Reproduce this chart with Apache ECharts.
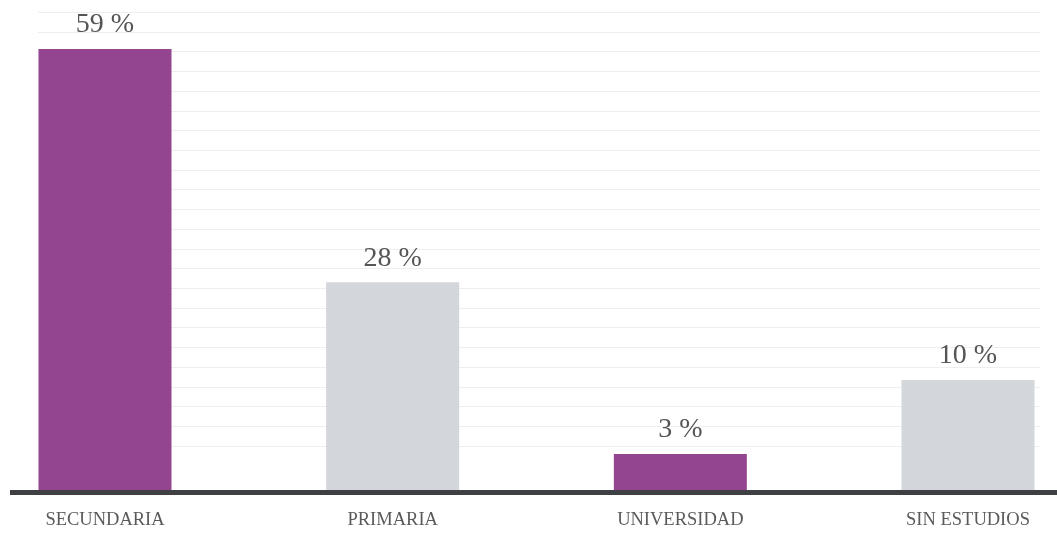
<!DOCTYPE html>
<html>
<head>
<meta charset="utf-8">
<script src="https://cdn.jsdelivr.net/npm/echarts@6/dist/echarts.min.js"></script>
<style>
html,body{margin:0;padding:0;background:#fff;}
#chart{width:1057px;height:535px;}
</style>
</head>
<body>
<div id="chart"></div>
<script>
// Data
const categories = ['SECUNDARIA', 'PRIMARIA', 'UNIVERSIDAD', 'SIN ESTUDIOS'];
const barValues = [59, 27.8, 4.8, 14.7];
const valueLabels = ['59 %', '28 %', '3 %', '10 %'];

const PURPLE = '#93458f';
const GREY = '#d3d6da';
const barColors = [PURPLE, GREY, PURPLE, GREY];
const FONT = 'Liberation Serif';

const chart = echarts.init(document.getElementById('chart'));
chart.setOption({
  animation: false,
  backgroundColor: '#ffffff',
  grid: [
    { left: 105, right: 89, top: 41.5, bottom: 45 },     // bars
    { left: 38, right: 17, top: 12.3, bottom: 89 },      // decorative grid lines
    { left: 10, right: 0, top: 400, bottom: 42.5 }       // baseline
  ],
  xAxis: [
    {
      gridIndex: 0, type: 'category', data: categories, boundaryGap: false,
      axisLine: { show: false }, axisTick: { show: false },
      axisLabel: { margin: 21, color: '#5a5a5a', fontFamily: FONT, fontSize: 18.5, interval: 0 }
    },
    { gridIndex: 1, type: 'value', show: false },
    {
      gridIndex: 2, type: 'value', min: 0, max: 1,
      axisLine: { show: true, lineStyle: { color: '#3f4044', width: 5, cap: 'butt' } },
      axisTick: { show: false }, axisLabel: { show: false }, splitLine: { show: false }
    }
  ],
  yAxis: [
    { gridIndex: 0, type: 'value', min: 0, max: 60, show: false },
    {
      gridIndex: 1, type: 'value', min: 0, max: 22, interval: 1,
      axisLine: { show: false }, axisTick: { show: false }, axisLabel: { show: false },
      splitLine: { show: true, lineStyle: { color: '#eeeeee', width: 1 } }
    },
    { gridIndex: 2, type: 'value', show: false }
  ],
  series: [{
    type: 'bar',
    xAxisIndex: 0, yAxisIndex: 0,
    data: barValues.map((v, i) => ({ value: v, itemStyle: { color: barColors[i] } })),
    barWidth: 133,
    clip: false,
    z: 3,
    label: {
      show: true, position: 'top', distance: 10,
      color: '#555', fontFamily: FONT, fontSize: 28,
      formatter: p => valueLabels[p.dataIndex]
    }
  }]
});
</script>
</body>
</html>
